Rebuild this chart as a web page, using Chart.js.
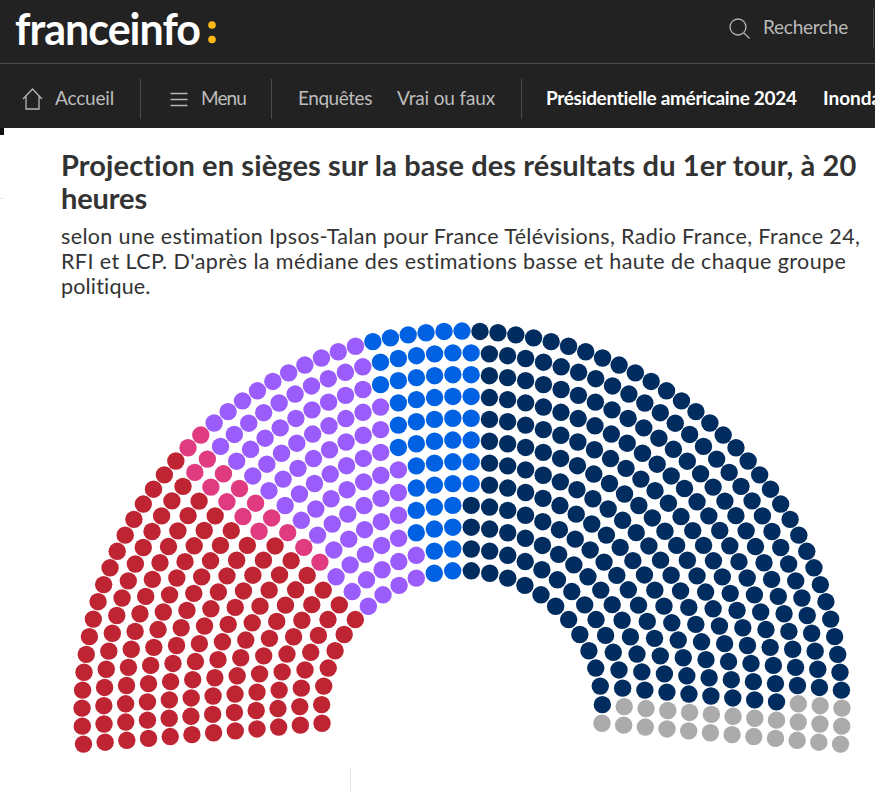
<!DOCTYPE html>
<html lang="fr"><head><meta charset="utf-8">
<script src="https://cdn.jsdelivr.net/npm/chart.js@4"></script>
<style>
html,body{margin:0;padding:0;background:#fff;width:875px;height:791px;overflow:hidden}
#page{position:relative;width:875px;height:791px;overflow:hidden;font-family:Lato,sans-serif}
.t{position:absolute;white-space:nowrap;line-height:1;transform:translateY(-50%)}
.bar{position:absolute;left:0;top:0;width:875px;height:128px;background:#222}
.ln{position:absolute;background:#4a4a4a}
canvas{position:absolute;left:0;top:300px}
svg{position:absolute;overflow:visible}
</style></head><body>
<div id="page">
<div class="bar"></div>
<div class="ln" style="left:0;top:63px;width:875px;height:1px"></div>
<div class="ln" style="left:140px;top:79px;width:1px;height:40px"></div>
<div class="ln" style="left:271px;top:79px;width:1px;height:40px"></div>
<div class="ln" style="left:521px;top:79px;width:1px;height:40px"></div>
<div class="ln" style="left:873px;top:8px;width:1px;height:40px"></div>
<div style="position:absolute;left:0;top:128px;width:4px;height:7px;background:#111"></div>
<div style="position:absolute;left:0;top:198px;width:3px;height:1px;background:#e4e4e4"></div>
<div style="position:absolute;left:350px;top:768px;width:1px;height:23px;background:#e0e4ee"></div>

<div class="t" data-w="185" style="left:15px;top:28px;font-size:43px;font-weight:700;color:#fff">franceinfo</div>
<svg style="left:0;top:0" width="875" height="128">
 <circle cx="212" cy="25" r="3.8" fill="#fdb913"/><circle cx="212" cy="39.5" r="3.8" fill="#fdb913"/>
 <g fill="none" stroke="#b5b5b5" stroke-width="1.3">
  <path d="M23 99 L32.5 89 L42 99 M26 96 V109 H39 V96"/>
  <path d="M170.5 93.5 H187.5 M170.5 99.5 H187.5 M170.5 105.5 H187.5"/>
  <circle cx="738" cy="27" r="8"/><path d="M744 33 L749.5 38.5"/>
 </g>
</svg>
<div class="t" data-w="85" style="left:763px;top:26px;font-size:19px;color:#b9b9b9">Recherche</div>
<div class="t" data-w="59" style="left:55px;top:97px;font-size:19px;color:#bdbdbd">Accueil</div>
<div class="t" data-w="45" style="left:201px;top:97px;font-size:19px;color:#bdbdbd">Menu</div>
<div class="t" data-w="74" style="left:298px;top:97px;font-size:19px;color:#bdbdbd">Enquêtes</div>
<div class="t" data-w="98" style="left:397px;top:97px;font-size:19px;color:#bdbdbd">Vrai ou faux</div>
<div class="t" data-w="251" style="left:546px;top:97px;font-size:19px;font-weight:700;color:#fff">Présidentielle américaine 2024</div>
<div class="t" style="left:823px;top:97px;font-size:19px;font-weight:700;color:#fff">Inondations</div>

<div class="t" data-w="796" style="left:61px;top:164px;font-size:29px;font-weight:700;color:#333">Projection en sièges sur la base des résultats du 1er tour, à 20</div>
<div class="t" data-w="86" style="left:61px;top:197px;font-size:29px;font-weight:700;color:#333">heures</div>
<div class="t" data-w="800" style="left:61px;top:237px;font-size:21.5px;color:#333">selon une estimation Ipsos-Talan pour France Télévisions, Radio France, France 24,</div>
<div class="t" data-w="786" style="left:61px;top:262px;font-size:21.5px;color:#333">RFI et LCP. D'après la médiane des estimations basse et haute de chaque groupe</div>
<div class="t" data-w="90" style="left:61px;top:287px;font-size:21.5px;color:#333">politique.</div>
<canvas id="c" width="875" height="491" style="width:875px;height:491px"></canvas>
</div>
<script>
// Seats per concentric row, from the innermost row (index 0) to the outermost (index 11),
// each row filled from the left end of the hemicycle to the right end.
const groupColors = ["#bf2433", "#e03a80", "#9a5cfb", "#0062e3", "#002c5f", "#ababab"];
const redSeats    = [7, 8, 9, 10, 11, 12, 12, 13, 14, 15, 16, 18];
const pinkSeats   = [0, 0, 0, 1, 1, 1, 2, 2, 2, 2, 2, 2];
const violetSeats = [4, 5, 5, 5, 6, 7, 7, 8, 9, 9, 10, 10];
const blueSeats   = [2, 2, 3, 3, 4, 4, 5, 5, 5, 6, 6, 6];
const navySeats   = [12, 13, 15, 17, 18, 20, 22, 24, 26, 27, 29, 32];
const greySeats   = [1, 2, 2, 2, 2, 2, 2, 2, 2, 3, 3, 3];
const groups = [redSeats, pinkSeats, violetSeats, blueSeats, navySeats, greySeats];

// fit each measured text line to the width seen in the reference
document.querySelectorAll('.t[data-w]').forEach(el => {
  const w = el.getBoundingClientRect().width;
  el.style.letterSpacing = ((+el.dataset.w - w) / el.textContent.length) + 'px';
});

const innerR = 140.5, rowStep = 21.77, startDeg = -5, sweepDeg = 190;
const rowTotals = redSeats.map((_, r) => groups.reduce((s, g) => s + g[r], 0));
const datasets = groups.map((g, k) => {
  const data = [];
  g.forEach((n, r) => {
    const before = groups.slice(0, k).reduce((s, o) => s + o[r], 0);
    for (let i = 0; i < n; i++) {
      const a = (startDeg + (before + i) * sweepDeg / (rowTotals[r] - 1)) * Math.PI / 180;
      const R = innerR + r * rowStep;
      data.push({x: -R * Math.cos(a), y: R * Math.sin(a)});
    }
  });
  return {data, backgroundColor: groupColors[k], pointRadius: 8.7, pointBorderWidth: 0, pointHoverRadius: 8.7, clip: false};
});
new Chart(document.getElementById('c'), {
  type: 'scatter',
  data: {datasets},
  options: {
    responsive: false, animation: false, events: [],
    layout: {padding: 0, autoPadding: false},
    plugins: {legend: {display: false}, tooltip: {enabled: false}},
    scales: {
      x: {type: 'linear', display: false, min: -462, max: 413},
      y: {type: 'linear', display: false, min: -80, max: 411}
    }
  }
});
</script>
</body></html>
